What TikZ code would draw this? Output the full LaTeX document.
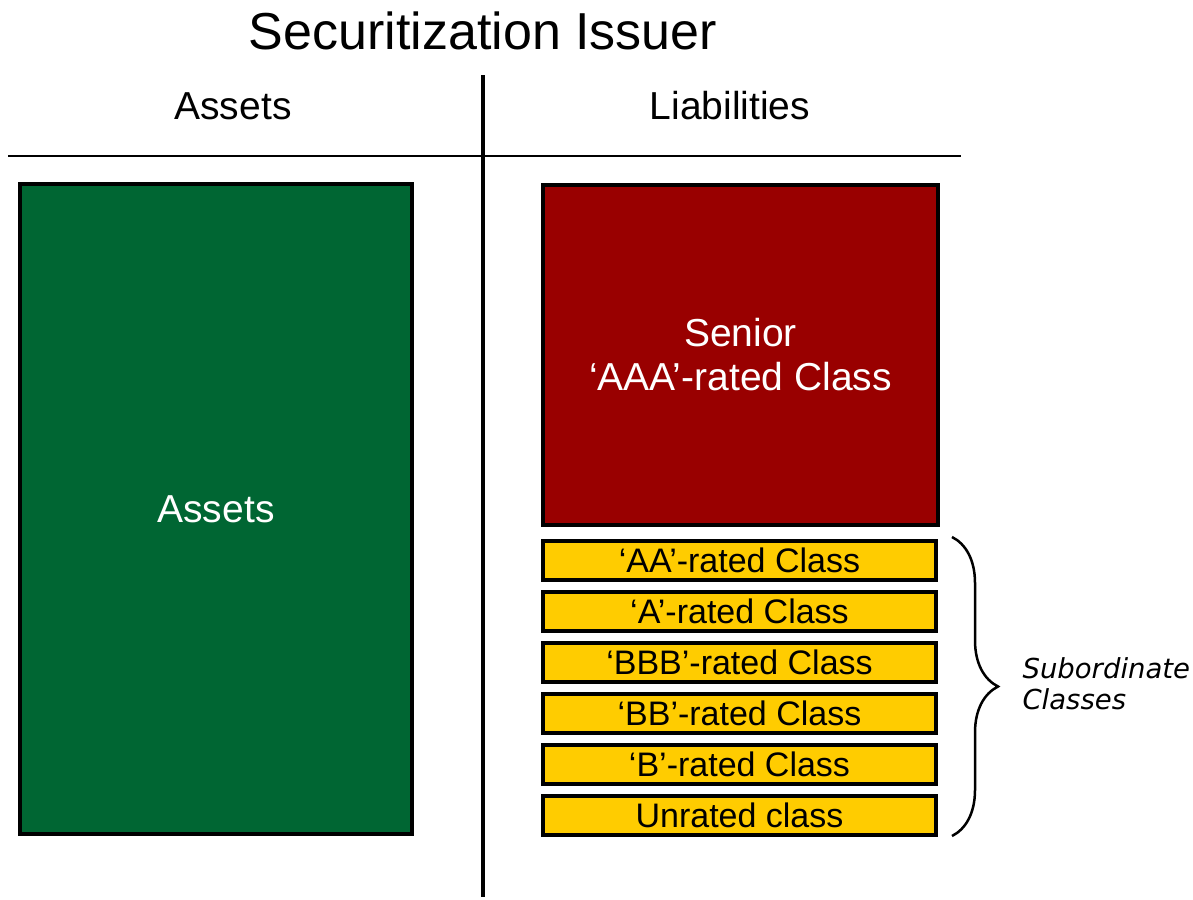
\documentclass[tikz,border=0pt]{standalone}
\usepackage{fontspec}
\setmainfont{Liberation Sans}
\newfontfamily\handfont{DejaVu Sans}
\usepackage{tikz}
\usetikzlibrary{positioning}
\usetikzlibrary{decorations.pathreplacing}
\definecolor{assetgreen}{HTML}{006633}
\definecolor{seniorred}{HTML}{990000}
\definecolor{subyellow}{HTML}{FFCC00}

\begin{document}
\begin{tikzpicture}[x=1pt,y=-1pt,
  box/.style={draw=black,line width=4pt,outer sep=0pt,inner sep=0pt,align=center},
  tranche/.style={box,fill=subyellow,minimum width=393pt,minimum height=39pt,font=\fontsize{34}{38}\selectfont},
  head/.style={anchor=base,font=\fontsize{39}{44}\selectfont},
  node distance=12pt]
  \useasboundingbox (0,0) rectangle (1193,899);

  %title and t-account
  \node[anchor=base,font=\fontsize{52}{56}\selectfont] (title) at (483,50) {Securitization Issuer};
  \coordinate (vtop) at (483,75);
  \coordinate (vbot) at (483,897);
  \coordinate (hleft) at (8,156);
  \coordinate (hright) at (961,156);
  \draw[line width=3.5pt] (vtop) -- (vbot);
  \draw[line width=2.5pt] (hleft) -- (hright);
  \node[head] (asshead) at (233,119) {Assets};
  \node[head] (liabhead) at (730,119) {Liabilities};

  %assets
  \node[box,fill=assetgreen,text=white,minimum width=392pt,minimum height=650pt,font=\fontsize{39}{44}\selectfont] (assets) at (216,509) {\raisebox{-2pt}{Assets}};

  %senior
  \node[box,fill=seniorred,text=white,minimum width=395pt,minimum height=340pt,font=\fontsize{39}{44}\selectfont] (senior) at (740.5,355) {Senior\\‘AAA’-rated Class};

  %subordinate
  \node[tranche] (aa) at (739.5,560) {‘AA’-rated Class};
  \node[tranche,below=of aa] (a) {‘A’-rated Class};
  \node[tranche,below=of a] (bbb) {‘BBB’-rated Class};
  \node[tranche,below=of bbb] (bb) {‘BB’-rated Class};
  \node[tranche,below=of bb] (b) {‘B’-rated Class};
  \node[tranche,below=of b] (unrated) {Unrated class};

  %brace
  \coordinate (bracetop) at (952,537);
  \coordinate (bracebot) at (952,836);
  \draw[line width=2.5pt,decorate,decoration={brace,amplitude=46pt}] (bracetop) -- (bracebot);
  \node[anchor=west,align=left,font=\handfont\itshape\fontsize{27.5}{31}\selectfont] (subclasses) at (1019,684) {Subordinate\\Classes};
\end{tikzpicture}
\end{document}
